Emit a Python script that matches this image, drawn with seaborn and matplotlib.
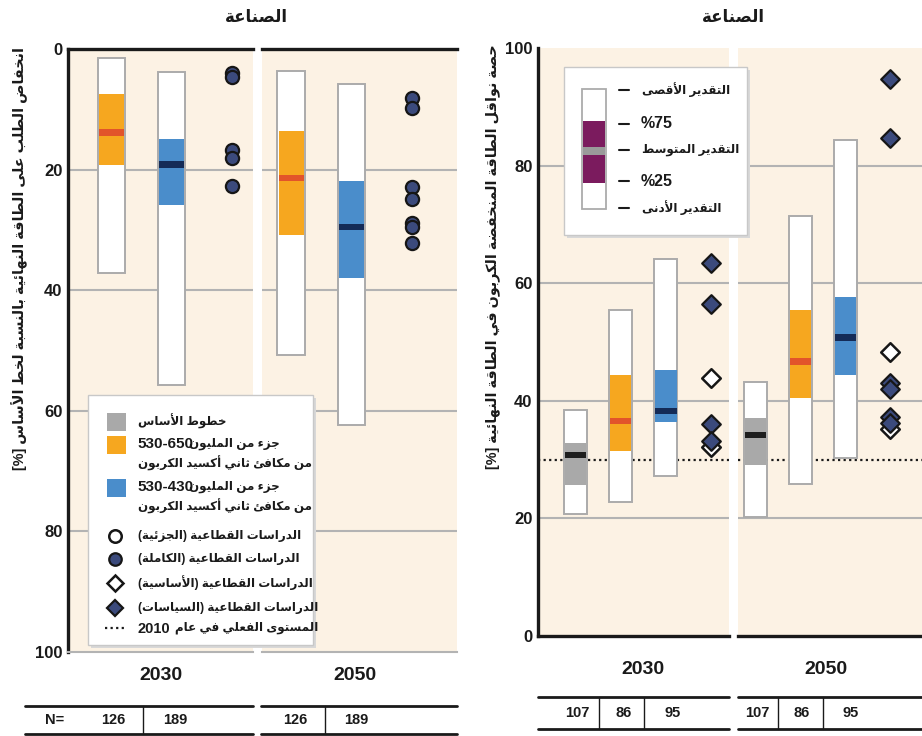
import re
import matplotlib
matplotlib.use('Agg')
import matplotlib.pyplot as plt
from matplotlib.patches import Rectangle
from matplotlib.lines import Line2D
import seaborn as sns

# ---- data ----
panel_title = "الصناعة"
years = ["2030", "2050"]

# left panel: final energy demand reduction relative to baseline [%]
left_ylabel = "انخفاض الطلب على الطاقة النهائية بالنسبة لخط الأساس [%]"
left_n = ["126", "189"]
left_lo_2030 = [1.5, 3.8]
left_q1_2030 = [7.5, 15.0]
left_md_2030 = [13.8, 19.2]
left_q3_2030 = [19.2, 25.9]
left_hi_2030 = [37.1, 55.7]
left_lo_2050 = [3.6, 5.8]
left_q1_2050 = [13.6, 21.9]
left_md_2050 = [21.4, 29.5]
left_q3_2050 = [30.8, 38.0]
left_hi_2050 = [50.7, 62.4]
left_studies_2030 = [4.0, 4.7, 16.8, 18.1, 22.8]
left_studies_2050 = [8.1, 9.8, 22.9, 24.9, 28.9, 29.6, 32.2]

# right panel: share of low-carbon energy carriers in final energy [%]
right_ylabel = "حصة نواقل الطاقة المنخفضة الكربون في الطاقة النهائية [%]"
right_n = ["107", "86", "95"]
right_lo_2030 = [20.7, 22.8, 27.2]
right_q1_2030 = [25.7, 31.5, 36.4]
right_md_2030 = [30.8, 36.6, 38.3]
right_q3_2030 = [32.8, 44.4, 45.2]
right_hi_2030 = [38.4, 55.4, 64.2]
right_lo_2050 = [20.2, 25.8, 30.2]
right_q1_2050 = [29.1, 40.5, 44.4]
right_md_2050 = [34.2, 46.7, 50.8]
right_q3_2050 = [37.0, 55.4, 57.6]
right_hi_2050 = [43.2, 71.4, 84.3]
right_policy_2030 = [63.4, 56.5, 36.0, 33.2]
right_basic_2030 = [43.9, 32.1]
right_policy_2050 = [94.8, 84.7, 43.0, 42.0, 37.2, 36.2]
right_basic_2050 = [48.3, 35.2]
level_2010 = 30

legend_base = "خطوط الأساس"
legend_ppm = ["530-650", "530-430"]
legend_unit = "جزء من المليون"
legend_unit2 = "من مكافئ ثاني أكسيد الكربون"
legend_markers = ["الدراسات القطاعية (الجزئية)", "الدراسات القطاعية (الكاملة)",
                  "الدراسات القطاعية (الأساسية)", "الدراسات القطاعية (السياسات)",
                  "المستوى الفعلي في عام"]
legend_year = "2010"
legend_stats = ["التقدير الأقصى", "%75", "التقدير المتوسط", "%25", "التقدير الأدنى"]

# colours
BG = '#FCF2E4'
GRID = '#B3B3B3'
EDGE = '#ABABAB'
GRAY, ORANGE, BLUE = '#A9A9A9', '#F6A71F', '#4A8DCB'
GRAY_MD, ORANGE_MD, BLUE_MD = '#1E1E1E', '#E2542A', '#142B57'
MARK = '#3B4A7C'
PURPLE = '#7B1B5E'
INK = '#1A1A1A'

# ---- minimal arabic shaping / visual ordering (matplotlib has no shaping) ----
AR_COUNTS = [(0x621, [1, 2, 2, 2, 2, 4, 2, 4, 2, 4, 4, 4, 4, 4, 2, 2, 2, 2, 4, 4, 4, 4, 4, 4, 4, 4]),
             (0x641, [4, 4, 4, 4, 4, 4, 4, 2, 2, 4])]
AR_FORMS = {}
_p = 0xFE80
for base, counts in AR_COUNTS:
    for k, n in enumerate(counts):
        AR_FORMS[chr(base + k)] = (n, _p)
        _p += n
LAM_ALEF = {'\u0627': 0xFEFB, '\u0623': 0xFEF7, '\u0622': 0xFEF5, '\u0625': 0xFEF9}
MIRROR = str.maketrans('()[]', ')(][')


def shape(word):
    out = []
    i = 0
    while i < len(word):
        c = word[i]
        if c not in AR_FORMS:
            out.append(c)
            i += 1
            continue
        prev = word[i - 1] if i > 0 else ''
        nxt = word[i + 1] if i + 1 < len(word) else ''
        joins_prev = prev in AR_FORMS and AR_FORMS[prev][0] == 4
        if c == '\u0644' and nxt in LAM_ALEF:
            out.append(chr(LAM_ALEF[nxt] + int(joins_prev)))
            i += 2
            continue
        n, p = AR_FORMS[c]
        joins_next = n == 4 and nxt in AR_FORMS and AR_FORMS[nxt][0] > 1
        if n == 1:
            f = p
        elif n == 2:
            f = p + int(joins_prev)
        else:
            f = p + [[0, 2], [1, 3]][joins_prev][joins_next]
        out.append(chr(f))
        i += 1
    return ''.join(out)


def ar(text):
    runs = re.findall(r'[\u0600-\u06FF]+(?:\s+[\u0600-\u06FF]+)*|[0-9A-Za-z][0-9A-Za-z.\-]*|[^\u0600-\u06FF0-9A-Za-z]+', text)
    vis = []
    for r in runs:
        if '\u0600' <= r[0] <= '\u06FF':
            vis.append(shape(r)[::-1])
        elif r[0].isalnum():
            vis.append(r)
        else:
            vis.append(r[::-1].translate(MIRROR))
    return ''.join(vis[::-1])


# ---- figure ----
sns.set_theme(style='white')
plt.rcParams['font.family'] = ['Liberation Sans', 'DejaVu Sans']

W, H = 922, 736
fig = plt.figure(figsize=(W / 100, H / 100), dpi=100)


def add_ax(x0, x1, y0, y1):
    return fig.add_axes([x0 / W, 1 - y1 / H, (x1 - x0) / W, (y1 - y0) / H])


def ftext(x, y, s, **kw):
    return fig.text(x / W, 1 - y / H, s, **kw)


def fline(x0, x1, y0, y1, **kw):
    fig.add_artist(Line2D([x0 / W, x1 / W], [1 - y0 / H, 1 - y1 / H], transform=fig.transFigure, **kw))


def frect(x0, y0, x1, y1, **kw):
    fig.add_artist(Rectangle((x0 / W, 1 - y1 / H), (x1 - x0) / W, (y1 - y0) / H,
                             transform=fig.transFigure, **kw))


def fmark(x, y, **kw):
    fig.add_artist(Line2D([x / W], [1 - y / H], transform=fig.transFigure, **kw))


def draw_ranges(ax, lo, q1, md, q3, hi, fills, meds, width):
    xs = list(range(len(lo)))
    ax.bar(xs, [h - l for l, h in zip(lo, hi)], bottom=lo, width=width,
           color='white', edgecolor=EDGE, linewidth=1.4, zorder=2)
    ax.bar(xs, [b - a for a, b in zip(q1, q3)], bottom=q1, width=width * 0.92,
           color=fills, linewidth=0, zorder=3)
    ax.bar(xs, 1.1, bottom=[m - 0.55 for m in md], width=width * 0.92,
           color=meds, linewidth=0, zorder=4)


def style_ax(ax, ylim, xlim, first, black_sides, gray_sides):
    ax.set_facecolor(BG)
    ax.set_xlim(*xlim)
    ax.set_ylim(*ylim)
    ax.set_xticks([])
    for v in [20, 40, 60, 80]:
        ax.axhline(v, color=GRID, lw=1.5, zorder=1)
    for s in ['left', 'right', 'top', 'bottom']:
        ax.spines[s].set_visible(False)
    for s in black_sides:
        ax.spines[s].set_visible(True)
        ax.spines[s].set_color(INK)
        ax.spines[s].set_linewidth(2.4)
    for s in gray_sides:
        ax.spines[s].set_visible(True)
        ax.spines[s].set_color(GRID)
        ax.spines[s].set_linewidth(1.5)
    ax.set_yticks([0, 20, 40, 60, 80, 100])
    ax.tick_params(axis='y', length=0, pad=4)
    if first:
        ax.set_yticklabels(['0', '20', '40', '60', '80', '100'], fontsize=12, fontweight='bold', color=INK)
    else:
        ax.set_yticklabels([])


# left panel
axL1 = add_ax(68, 253, 49, 652)
axL2 = add_ax(262, 457, 49, 652)
style_ax(axL1, (100, 0), (-0.73, 2.35), True, ['left', 'top'], ['bottom'])
style_ax(axL2, (100, 0), (-0.48, 2.74), False, ['top'], ['bottom'])
draw_ranges(axL1, left_lo_2030, left_q1_2030, left_md_2030, left_q3_2030, left_hi_2030,
            [ORANGE, BLUE], [ORANGE_MD, BLUE_MD], 0.45)
draw_ranges(axL2, left_lo_2050, left_q1_2050, left_md_2050, left_q3_2050, left_hi_2050,
            [ORANGE, BLUE], [ORANGE_MD, BLUE_MD], 0.45)
for ax, vals in [(axL1, left_studies_2030), (axL2, left_studies_2050)]:
    sns.scatterplot(x=[2] * len(vals), y=vals, marker='o', s=90, color=MARK,
                    edgecolor='#161616', linewidth=1.6, ax=ax, zorder=5)

# right panel
axR1 = add_ax(538, 729, 48, 636)
axR2 = add_ax(738, 922, 48, 636)
style_ax(axR1, (0, 100), (-0.84, 3.4), True, ['left', 'bottom'], [])
style_ax(axR2, (0, 100), (-0.4, 3.72), False, ['bottom'], [])
draw_ranges(axR1, right_lo_2030, right_q1_2030, right_md_2030, right_q3_2030, right_hi_2030,
            [GRAY, ORANGE, BLUE], [GRAY_MD, ORANGE_MD, BLUE_MD], 0.51)
draw_ranges(axR2, right_lo_2050, right_q1_2050, right_md_2050, right_q3_2050, right_hi_2050,
            [GRAY, ORANGE, BLUE], [GRAY_MD, ORANGE_MD, BLUE_MD], 0.51)
for ax, basic, policy in [(axR1, right_basic_2030, right_policy_2030),
                          (axR2, right_basic_2050, right_policy_2050)]:
    ax.axhline(level_2010, color=INK, ls=(0, (1, 1.5)), lw=1.6, zorder=1.5)
    sns.scatterplot(x=[3] * len(basic), y=basic, marker='D', s=90, color='white',
                    edgecolor='#161616', linewidth=1.8, ax=ax, zorder=5)
    sns.scatterplot(x=[3] * len(policy), y=policy, marker='D', s=90, color=MARK,
                    edgecolor='#161616', linewidth=1.6, ax=ax, zorder=6)

# titles and axis labels
ftext(256, 18, ar(panel_title), ha='center', va='center', fontsize=12, fontweight='bold', color=INK)
ftext(733, 18, ar(panel_title), ha='center', va='center', fontsize=12, fontweight='bold', color=INK)
ftext(20, 258, ar(left_ylabel), rotation=90, ha='center', va='center', fontsize=10.4, fontweight='bold', color=INK)
ftext(493, 257, ar(right_ylabel), rotation=90, ha='center', va='center', fontsize=10.4, fontweight='bold', color=INK)

# left legend
AR_SMALL = dict(fontsize=8.6, fontweight='bold', color=INK)
frect(91, 398, 316, 648, facecolor='#D8D8D8', edgecolor='none')
frect(88, 395, 313, 645, facecolor='white', edgecolor='#C8C8C8', linewidth=1)
frect(107, 413, 126, 431, facecolor=GRAY, edgecolor='none')
frect(107, 436, 126, 454, facecolor=ORANGE, edgecolor='none')
frect(107, 479, 126, 497, facecolor=BLUE, edgecolor='none')
lkw = dict(ha='left', va='center', **AR_SMALL)
nkw = dict(ha='left', va='center', fontsize=11, fontweight='bold', color=INK)
ftext(138, 421, ar(legend_base), **lkw)
for y, ppm in zip([444, 487], legend_ppm):
    ftext(137, y, ppm, **nkw)
    ftext(189, y, ar(legend_unit), **lkw)
ftext(138, 463, ar(legend_unit2), **lkw)
ftext(138, 506, ar(legend_unit2), **lkw)
fmark(115, 536, marker='o', ms=9, mfc='white', mec='#161616', mew=1.8)
fmark(115, 559, marker='o', ms=9, mfc=MARK, mec='#161616', mew=1.6)
fmark(115, 583, marker='D', ms=8, mfc='white', mec='#161616', mew=1.8)
fmark(115, 608, marker='D', ms=8, mfc=MARK, mec='#161616', mew=1.6)
fline(105, 126, 628, 628, color=INK, ls=(0, (1, 1.5)), lw=1.6)
for y, s in zip([536, 559, 583, 608], legend_markers[:4]):
    ftext(138, y, ar(s), **lkw)
ftext(137, 629, legend_year, **dict(nkw, fontsize=10.5))
ftext(175, 628, ar(legend_markers[4]), **lkw)

# right legend
frect(567, 70, 750, 238, facecolor='#D8D8D8', edgecolor='none')
frect(564, 67, 747, 235, facecolor='white', edgecolor='#C8C8C8', linewidth=1)
frect(582, 89, 606, 209, facecolor='white', edgecolor=EDGE, linewidth=1.3)
frect(583, 121, 605, 183, facecolor=PURPLE, edgecolor='none')
frect(583, 147, 605, 155, facecolor='#9A9A9A', edgecolor='none')
for y, s in zip([90, 124, 150, 181, 208], legend_stats):
    fline(619, 629, y, y, color=INK, lw=1.5)
    if s.startswith('%'):
        ftext(641, y, s, ha='left', va='center', fontsize=11.5, fontweight='bold', color=INK)
    else:
        ftext(642, y, ar(s), ha='left', va='center', **AR_SMALL)

# year labels
for x, y, s in [(161, 676, years[0]), (355, 676, years[1]), (643, 669, years[0]), (826, 669, years[1])]:
    ftext(x, y, s, ha='center', va='center', fontsize=14, fontweight='bold', color=INK)

# N tables
tkw = dict(ha='center', va='center', fontsize=10.5, fontweight='bold', color=INK)
for x0, x1, yt, yb in [(25, 253, 706, 734), (261, 457, 706, 734), (538, 729, 697, 729), (738, 922, 697, 729)]:
    fline(x0, x1, yt, yt, color=INK, lw=2)
    fline(x0, x1, yb, yb, color=INK, lw=2)
for x, yt, yb in [(143, 706, 734), (325, 706, 734), (599, 697, 729), (644, 697, 729), (778, 697, 729), (823, 697, 729)]:
    fline(x, x, yt, yb, color=INK, lw=1)
ftext(55, 720, 'N=', **tkw)
for x, s in zip([113, 175, 295, 356], left_n + left_n):
    ftext(x, 720, s, **tkw)
for x, s in zip([577, 624, 673, 757, 802, 851], right_n + right_n):
    ftext(x, 713, s, **tkw)

fig.savefig('out.png', dpi=100, facecolor='white')
